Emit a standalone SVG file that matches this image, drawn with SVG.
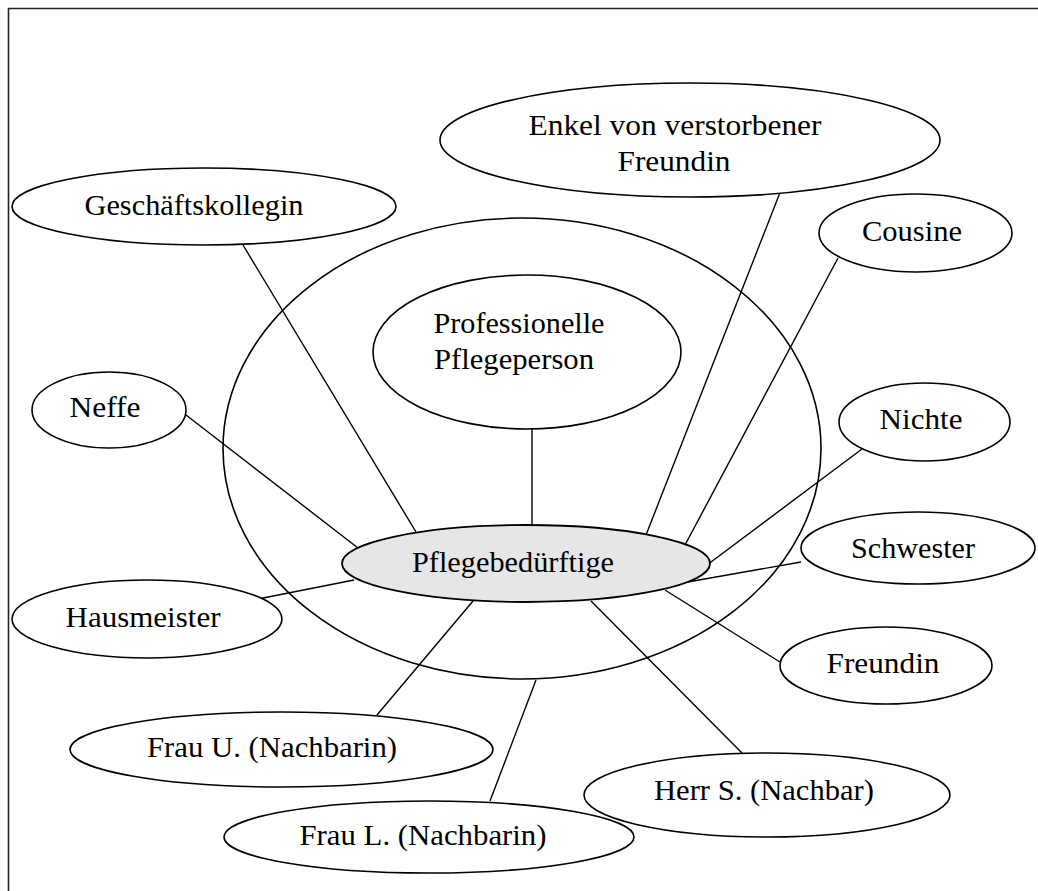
<svg xmlns="http://www.w3.org/2000/svg" width="1038" height="891" viewBox="0 0 1038 891">
<style>
.n{fill:#fff;stroke:#000;stroke-width:1.6}
.c{fill:#e6e6e6;stroke:#000;stroke-width:1.8}
.t{font-family:"Liberation Serif",serif;font-size:29px;fill:#000;text-anchor:middle}
#connectors line{stroke:#000;stroke-width:1.4}
</style>
<rect x="0" y="0" width="1038" height="891" fill="#fff"/>
<path d="M8.5 891 V8.5 H1038" fill="none" stroke="#222" stroke-width="1.6"/>
<g id="ring"><ellipse cx="522" cy="448.5" rx="299" ry="230.5" fill="none" stroke="#000" stroke-width="1.6"/></g>
<g id="connectors">
<line x1="243" y1="245" x2="416" y2="532"/>
<line x1="781" y1="190" x2="646" y2="535"/>
<line x1="838" y1="258" x2="685" y2="545"/>
<line x1="532" y1="429" x2="532" y2="526"/>
<line x1="186" y1="415" x2="358" y2="548"/>
<line x1="862" y1="449" x2="707" y2="565"/>
<line x1="801" y1="562" x2="682" y2="583"/>
<line x1="258" y1="599" x2="354" y2="580"/>
<line x1="665" y1="590" x2="780" y2="662"/>
<line x1="377" y1="715" x2="473" y2="601"/>
<line x1="490" y1="801" x2="536" y2="680"/>
<line x1="742" y1="753" x2="591" y2="601"/>
</g>
<g id="enkel"><ellipse class="n" cx="690" cy="140" rx="250" ry="57"/><text class="t" x="675" y="135" textLength="293" lengthAdjust="spacingAndGlyphs">Enkel von verstorbener</text><text class="t" x="674" y="171" textLength="113" lengthAdjust="spacingAndGlyphs">Freundin</text></g>
<g id="geschaeftskollegin"><ellipse class="n" cx="204" cy="206.5" rx="192" ry="38.5"/><text class="t" x="194" y="215" textLength="219" lengthAdjust="spacingAndGlyphs">Geschäftskollegin</text></g>
<g id="cousine"><ellipse class="n" cx="915.5" cy="233" rx="96.5" ry="39"/><text class="t" x="912" y="241" textLength="100" lengthAdjust="spacingAndGlyphs">Cousine</text></g>
<g id="professionelle"><ellipse class="n" cx="527" cy="352" rx="154" ry="77"/><text class="t" x="519" y="333" textLength="171" lengthAdjust="spacingAndGlyphs">Professionelle</text><text class="t" x="514" y="369" textLength="160" lengthAdjust="spacingAndGlyphs">Pflegeperson</text></g>
<g id="neffe"><ellipse class="n" cx="109" cy="410" rx="77" ry="38"/><text class="t" x="105" y="417" textLength="71" lengthAdjust="spacingAndGlyphs">Neffe</text></g>
<g id="nichte"><ellipse class="n" cx="924.5" cy="422" rx="85.5" ry="39"/><text class="t" x="921" y="429" textLength="83" lengthAdjust="spacingAndGlyphs">Nichte</text></g>
<g id="schwester"><ellipse class="n" cx="918" cy="548" rx="117" ry="36"/><text class="t" x="913" y="558" textLength="124" lengthAdjust="spacingAndGlyphs">Schwester</text></g>
<g id="pflegebeduerftige"><ellipse class="c" cx="526" cy="563.5" rx="184" ry="38.5"/><text class="t" x="513" y="572" textLength="202" lengthAdjust="spacingAndGlyphs">Pflegebedürftige</text></g>
<g id="hausmeister"><ellipse class="n" cx="147" cy="619" rx="135" ry="39"/><text class="t" x="143" y="627" textLength="155" lengthAdjust="spacingAndGlyphs">Hausmeister</text></g>
<g id="freundin"><ellipse class="n" cx="886" cy="665.5" rx="106" ry="38.5"/><text class="t" x="883" y="673" textLength="113" lengthAdjust="spacingAndGlyphs">Freundin</text></g>
<g id="frau-u"><ellipse class="n" cx="281.5" cy="749.5" rx="211.5" ry="37.5"/><text class="t" x="272" y="757" textLength="250" lengthAdjust="spacingAndGlyphs">Frau U. (Nachbarin)</text></g>
<g id="herr-s"><ellipse class="n" cx="767" cy="795" rx="183" ry="42"/><text class="t" x="764" y="800" textLength="220" lengthAdjust="spacingAndGlyphs">Herr S. (Nachbar)</text></g>
<g id="frau-l"><ellipse class="n" cx="429" cy="837" rx="205" ry="36"/><text class="t" x="423" y="845" textLength="247" lengthAdjust="spacingAndGlyphs">Frau L. (Nachbarin)</text></g>
</svg>
